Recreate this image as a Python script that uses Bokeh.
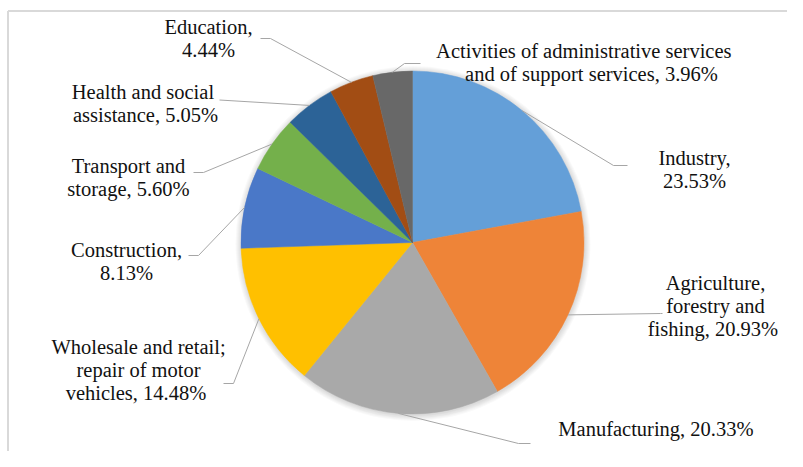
import math
from bokeh.plotting import figure
from bokeh.models import Range1d, ColumnDataSource
from bokeh.core.properties import value
from bokeh.embed import file_html
from bokeh.resources import INLINE

# ---- data ----
categories = ["Industry", "Agriculture, forestry and fishing", "Manufacturing",
              "Wholesale and retail; repair of motor vehicles", "Construction",
              "Transport and storage", "Health and social assistance", "Education",
              "Activities of administrative services and of support services"]
shares = [23.53, 20.93, 20.33, 14.48, 8.13, 5.60, 5.05, 4.44, 3.96]
label_lines = [["Industry,", "23.53%"],
               ["Agriculture,", "forestry and", "fishing,  20.93%"],
               ["Manufacturing,  20.33%"],
               ["Wholesale and retail;", "repair of motor", "vehicles,  14.48%"],
               ["Construction,", "8.13%"],
               ["Transport and", "storage, 5.60%"],
               ["Health  and social", "assistance, 5.05%"],
               ["Education,", "4.44%"],
               ["Activities  of administrative   services", "and of support services, 3.96%"]]
colors = ["#649fd8", "#ee8438", "#a9a9a9", "#ffc000", "#4a78c8",
          "#74b04b", "#2c6397", "#a24d14", "#686868"]

# ---- layout (pixel positions, y measured from top of window) ----
H = 467
cx, cy_img, r = 412, 242, 171.5
label_x = [694, 715, 658, 138, 126, 128, 145, 208, 591]
label_base_img = [165, 290, 436, 353.5, 257, 172.5, 98.5, 33.5, 58]
line_step = 23
mid_offset = 7.5
elbow = [(613, 165), (660, 313), (518, 443), (233, 383), (198, 255),
         (203, 172), (219, 99.5), (270, 38), (404, 63)]
lead_end = [(627, 165), (662, 313), (530, 443), (223, 383), (188, 255),
            (193, 172), (219, 99.5), (260, 38), (420, 63)]

cy = H - cy_img
total = sum(shares)
starts, ends, mids = [], [], []
acc = 0.0
for s in shares:
    a0 = acc / total * 360.0
    acc += s
    a1 = acc / total * 360.0
    starts.append(math.radians(90 - a0))
    ends.append(math.radians(90 - a1))
    mids.append(math.radians((a0 + a1) / 2))

src = ColumnDataSource(dict(cat=categories, val=shares, start=starts, end=ends, color=colors))

p = figure(width=787, height=451, x_range=Range1d(0, 787), y_range=Range1d(16, 467),
           output_backend="svg", toolbar_location=None, x_axis_type=None, y_axis_type=None,
           min_border=0, outline_line_color=None)
p.xgrid.visible = False
p.ygrid.visible = False

# chart-area border (top and left edges visible)
p.line([7.5, 787], [H - 10.5, H - 10.5], line_color="#d9d9d9", line_width=2)
p.line([7.5, 7.5], [16, H - 10.5], line_color="#d9d9d9", line_width=2)

# soft shadow behind the pie
for k in range(1, 7):
    p.circle(x=cx + 0.5, y=cy - 1, radius=r + k, fill_color="black", fill_alpha=0.025,
             line_color=None)

p.wedge(x=cx, y=cy, radius=r, start_angle="start", end_angle="end", direction="clock",
        fill_color="color", line_color="color", line_width=0.5, source=src)

# leader lines
xs, ys = [], []
for m, e, t in zip(mids, elbow, lead_end):
    rx = cx + r * math.sin(m)
    ry = cy + r * math.cos(m)
    xs.append([rx, e[0], t[0]])
    ys.append([ry, H - e[1], H - t[1]])
p.multi_line(xs, ys, line_color="#a6a6a6", line_width=1)

# data labels
tx, ty, tt = [], [], []
for lines, x0, b0 in zip(label_lines, label_x, label_base_img):
    for i, ln in enumerate(lines):
        tx.append(x0)
        ty.append(H - (b0 + i * line_step - mid_offset))
        tt.append(ln)
p.text(x=tx, y=ty, text=tt,
       text_font=value("Liberation Serif"), text_font_size="20.5px",
       text_align="center", text_baseline="middle", text_color="#111111")

open("out.html", "w").write(file_html(p, INLINE))
